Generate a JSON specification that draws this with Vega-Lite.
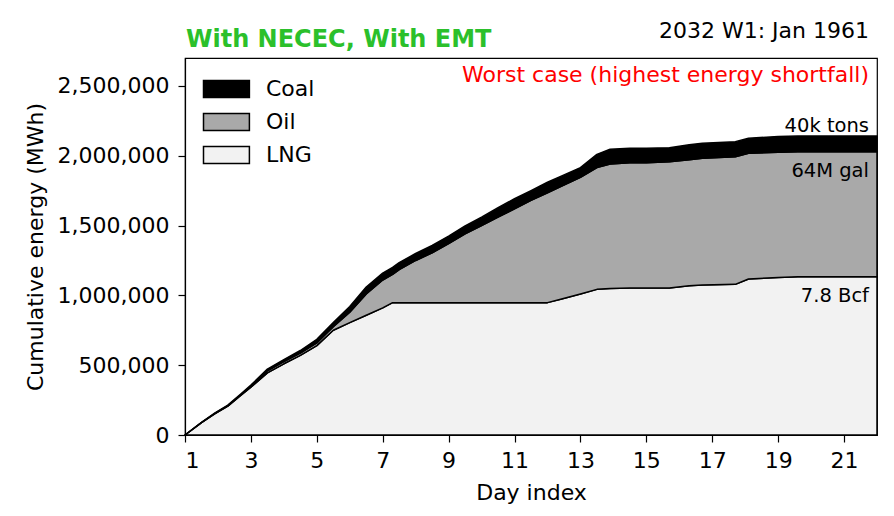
{
  "$schema": "https://vega.github.io/schema/vega-lite/v6.json",
  "autosize": "none",
  "padding": {"left": 185, "top": 58, "right": 17, "bottom": 81},
  "width": 692,
  "height": 377,
  "background": "white",
  "config": {
    "font": "DejaVu Sans",
    "view": {"stroke": "black", "strokeWidth": 1.2},
    "axis": {"grid": false, "domainColor": "black", "domainWidth": 1.2, "tickColor": "black", "tickWidth": 1.2, "tickSize": 7, "labelColor": "black", "titleColor": "black", "labelFont": "DejaVu Sans", "titleFont": "DejaVu Sans", "labelFontSize": 22, "titleFontSize": 22, "titleFontWeight": "normal"},
    "legend": {"labelFont": "DejaVu Sans", "labelFontSize": 22, "labelColor": "black"}
  },
  "datasets": {
    "energy": [
      {"day": 1.0, "type": "LNG", "mwh": 0}, {"day": 1.0, "type": "Oil", "mwh": 0}, {"day": 1.0, "type": "Coal", "mwh": 0},
      {"day": 1.5, "type": "LNG", "mwh": 88000}, {"day": 1.5, "type": "Oil", "mwh": 1000}, {"day": 1.5, "type": "Coal", "mwh": 1000},
      {"day": 1.9, "type": "LNG", "mwh": 152000}, {"day": 1.9, "type": "Oil", "mwh": 2000}, {"day": 1.9, "type": "Coal", "mwh": 3000},
      {"day": 2.3, "type": "LNG", "mwh": 207000}, {"day": 2.3, "type": "Oil", "mwh": 3000}, {"day": 2.3, "type": "Coal", "mwh": 4000},
      {"day": 2.7, "type": "LNG", "mwh": 285000}, {"day": 2.7, "type": "Oil", "mwh": 5000}, {"day": 2.7, "type": "Coal", "mwh": 5000},
      {"day": 3.0, "type": "LNG", "mwh": 342000}, {"day": 3.0, "type": "Oil", "mwh": 8000}, {"day": 3.0, "type": "Coal", "mwh": 7000},
      {"day": 3.5, "type": "LNG", "mwh": 445000}, {"day": 3.5, "type": "Oil", "mwh": 15000}, {"day": 3.5, "type": "Coal", "mwh": 12000},
      {"day": 4.0, "type": "LNG", "mwh": 510000}, {"day": 4.0, "type": "Oil", "mwh": 15000}, {"day": 4.0, "type": "Coal", "mwh": 15000},
      {"day": 4.5, "type": "LNG", "mwh": 570000}, {"day": 4.5, "type": "Oil", "mwh": 17000}, {"day": 4.5, "type": "Coal", "mwh": 18000},
      {"day": 5.0, "type": "LNG", "mwh": 640000}, {"day": 5.0, "type": "Oil", "mwh": 20000}, {"day": 5.0, "type": "Coal", "mwh": 25000},
      {"day": 5.5, "type": "LNG", "mwh": 750000}, {"day": 5.5, "type": "Oil", "mwh": 25000}, {"day": 5.5, "type": "Coal", "mwh": 30000},
      {"day": 6.0, "type": "LNG", "mwh": 805000}, {"day": 6.0, "type": "Oil", "mwh": 75000}, {"day": 6.0, "type": "Coal", "mwh": 40000},
      {"day": 6.5, "type": "LNG", "mwh": 858000}, {"day": 6.5, "type": "Oil", "mwh": 152000}, {"day": 6.5, "type": "Coal", "mwh": 50000},
      {"day": 7.0, "type": "LNG", "mwh": 910000}, {"day": 7.0, "type": "Oil", "mwh": 200000}, {"day": 7.0, "type": "Coal", "mwh": 50000},
      {"day": 7.3, "type": "LNG", "mwh": 948000}, {"day": 7.3, "type": "Oil", "mwh": 202000}, {"day": 7.3, "type": "Coal", "mwh": 50000},
      {"day": 7.5, "type": "LNG", "mwh": 948000}, {"day": 7.5, "type": "Oil", "mwh": 237000}, {"day": 7.5, "type": "Coal", "mwh": 50000},
      {"day": 8.0, "type": "LNG", "mwh": 948000}, {"day": 8.0, "type": "Oil", "mwh": 302000}, {"day": 8.0, "type": "Coal", "mwh": 50000},
      {"day": 8.5, "type": "LNG", "mwh": 948000}, {"day": 8.5, "type": "Oil", "mwh": 357000}, {"day": 8.5, "type": "Coal", "mwh": 52000},
      {"day": 9.0, "type": "LNG", "mwh": 948000}, {"day": 9.0, "type": "Oil", "mwh": 422000}, {"day": 9.0, "type": "Coal", "mwh": 55000},
      {"day": 9.5, "type": "LNG", "mwh": 948000}, {"day": 9.5, "type": "Oil", "mwh": 492000}, {"day": 9.5, "type": "Coal", "mwh": 57000},
      {"day": 10.0, "type": "LNG", "mwh": 948000}, {"day": 10.0, "type": "Oil", "mwh": 552000}, {"day": 10.0, "type": "Coal", "mwh": 60000},
      {"day": 10.5, "type": "LNG", "mwh": 948000}, {"day": 10.5, "type": "Oil", "mwh": 612000}, {"day": 10.5, "type": "Coal", "mwh": 68000},
      {"day": 11.0, "type": "LNG", "mwh": 948000}, {"day": 11.0, "type": "Oil", "mwh": 672000}, {"day": 11.0, "type": "Coal", "mwh": 72000},
      {"day": 11.5, "type": "LNG", "mwh": 948000}, {"day": 11.5, "type": "Oil", "mwh": 732000}, {"day": 11.5, "type": "Coal", "mwh": 70000},
      {"day": 12.0, "type": "LNG", "mwh": 948000}, {"day": 12.0, "type": "Oil", "mwh": 787000}, {"day": 12.0, "type": "Coal", "mwh": 75000},
      {"day": 12.4, "type": "LNG", "mwh": 972000}, {"day": 12.4, "type": "Oil", "mwh": 808000}, {"day": 12.4, "type": "Coal", "mwh": 72000},
      {"day": 13.0, "type": "LNG", "mwh": 1010000}, {"day": 13.0, "type": "Oil", "mwh": 835000}, {"day": 13.0, "type": "Coal", "mwh": 70000},
      {"day": 13.5, "type": "LNG", "mwh": 1043000}, {"day": 13.5, "type": "Oil", "mwh": 872000}, {"day": 13.5, "type": "Coal", "mwh": 95000},
      {"day": 13.9, "type": "LNG", "mwh": 1050000}, {"day": 13.9, "type": "Oil", "mwh": 891000}, {"day": 13.9, "type": "Coal", "mwh": 105000},
      {"day": 14.5, "type": "LNG", "mwh": 1052000}, {"day": 14.5, "type": "Oil", "mwh": 898000}, {"day": 14.5, "type": "Coal", "mwh": 103000},
      {"day": 15.0, "type": "LNG", "mwh": 1052000}, {"day": 15.0, "type": "Oil", "mwh": 898000}, {"day": 15.0, "type": "Coal", "mwh": 103000},
      {"day": 15.7, "type": "LNG", "mwh": 1052000}, {"day": 15.7, "type": "Oil", "mwh": 905000}, {"day": 15.7, "type": "Coal", "mwh": 101000},
      {"day": 16.3, "type": "LNG", "mwh": 1069000}, {"day": 16.3, "type": "Oil", "mwh": 903000}, {"day": 16.3, "type": "Coal", "mwh": 106000},
      {"day": 16.7, "type": "LNG", "mwh": 1075000}, {"day": 16.7, "type": "Oil", "mwh": 907000}, {"day": 16.7, "type": "Coal", "mwh": 107000},
      {"day": 17.7, "type": "LNG", "mwh": 1079000}, {"day": 17.7, "type": "Oil", "mwh": 914000}, {"day": 17.7, "type": "Coal", "mwh": 108000},
      {"day": 18.1, "type": "LNG", "mwh": 1117000}, {"day": 18.1, "type": "Oil", "mwh": 900000}, {"day": 18.1, "type": "Coal", "mwh": 108000},
      {"day": 19.0, "type": "LNG", "mwh": 1128000}, {"day": 19.0, "type": "Oil", "mwh": 897000}, {"day": 19.0, "type": "Coal", "mwh": 113000},
      {"day": 19.6, "type": "LNG", "mwh": 1134000}, {"day": 19.6, "type": "Oil", "mwh": 895000}, {"day": 19.6, "type": "Coal", "mwh": 113000},
      {"day": 20.5, "type": "LNG", "mwh": 1134000}, {"day": 20.5, "type": "Oil", "mwh": 895000}, {"day": 20.5, "type": "Coal", "mwh": 113000},
      {"day": 22.0, "type": "LNG", "mwh": 1134000}, {"day": 22.0, "type": "Oil", "mwh": 895000}, {"day": 22.0, "type": "Coal", "mwh": 113000}
    ],
    "labels": [
      {"label": "40k tons", "day": 22, "mwh": 2142000, "pos": "above"},
      {"label": "64M gal", "day": 22, "mwh": 2029000, "pos": "below"},
      {"label": "7.8 Bcf", "day": 22, "mwh": 1134000, "pos": "below"}
    ]
  },
  "layer": [
    {
      "data": {"name": "energy"},
      "transform": [{"calculate": "indexof(['LNG','Oil','Coal'], datum.type)", "as": "rank"}],
      "mark": {"type": "area", "stroke": "black", "strokeWidth": 1.5, "strokeJoin": "round", "interpolate": "linear", "opacity": 1},
      "encoding": {
        "x": {"field": "day", "type": "quantitative", "scale": {"domain": [1, 22], "nice": false, "zero": false},
              "axis": {"title": "Day index", "values": [1, 3, 5, 7, 9, 11, 13, 15, 17, 19, 21], "format": "d", "labelPadding": 8, "titlePadding": 11}},
        "y": {"field": "mwh", "type": "quantitative", "stack": "zero", "scale": {"domain": [0, 2700000], "nice": false},
              "axis": {"title": "Cumulative energy (MWh)", "values": [0, 500000, 1000000, 1500000, 2000000, 2500000], "format": ",d", "labelPadding": 9, "titlePadding": 10}},
        "color": {"field": "type", "type": "nominal", "scale": {"domain": ["Coal", "Oil", "LNG"], "range": ["#000000", "#a9a9a9", "#f2f2f2"]},
                  "legend": {"title": null, "orient": "none", "legendX": 16, "legendY": 20, "padding": 0, "symbolType": "M-1,-1H4.4V1H-1Z", "symbolSize": 289, "symbolStrokeColor": "black", "symbolStrokeWidth": 1.5, "symbolOpacity": 1, "labelOffset": 43, "rowPadding": 9}},
        "order": {"field": "rank", "type": "quantitative"}
      }
    },
    {
      "data": {"name": "labels"},
      "transform": [{"filter": "datum.pos == 'above'"}],
      "mark": {"type": "text", "align": "right", "baseline": "alphabetic", "dx": -8, "dy": -4, "fontSize": 19.5, "color": "black"},
      "encoding": {"x": {"field": "day", "type": "quantitative"}, "y": {"field": "mwh", "type": "quantitative"}, "text": {"field": "label"}}
    },
    {
      "data": {"name": "labels"},
      "transform": [{"filter": "datum.pos == 'below'"}],
      "mark": {"type": "text", "align": "right", "baseline": "alphabetic", "dx": -8, "dy": 25, "fontSize": 19.5, "color": "black"},
      "encoding": {"x": {"field": "day", "type": "quantitative"}, "y": {"field": "mwh", "type": "quantitative"}, "text": {"field": "label"}}
    },
    {
      "data": {"values": [{"note": "Worst case (highest energy shortfall)"}]},
      "mark": {"type": "text", "align": "right", "baseline": "alphabetic", "dx": -8, "dy": 24, "fontSize": 22, "color": "#ff0000"},
      "encoding": {"x": {"datum": 22, "type": "quantitative"}, "y": {"datum": 2700000, "type": "quantitative"}, "text": {"field": "note"}}
    },
    {
      "data": {"values": [{"note": "2032 W1: Jan 1961"}]},
      "mark": {"type": "text", "align": "right", "baseline": "alphabetic", "dx": -8, "dy": -20, "fontSize": 22, "color": "black"},
      "encoding": {"x": {"datum": 22, "type": "quantitative"}, "y": {"datum": 2700000, "type": "quantitative"}, "text": {"field": "note"}}
    },
    {
      "data": {"values": [{"note": "With NECEC, With EMT"}]},
      "mark": {"type": "text", "align": "left", "baseline": "alphabetic", "dx": 1, "dy": -11, "fontSize": 24, "fontWeight": "bold", "color": "#2bc02b"},
      "encoding": {"x": {"datum": 1, "type": "quantitative"}, "y": {"datum": 2700000, "type": "quantitative"}, "text": {"field": "note"}}
    }
  ]
}
